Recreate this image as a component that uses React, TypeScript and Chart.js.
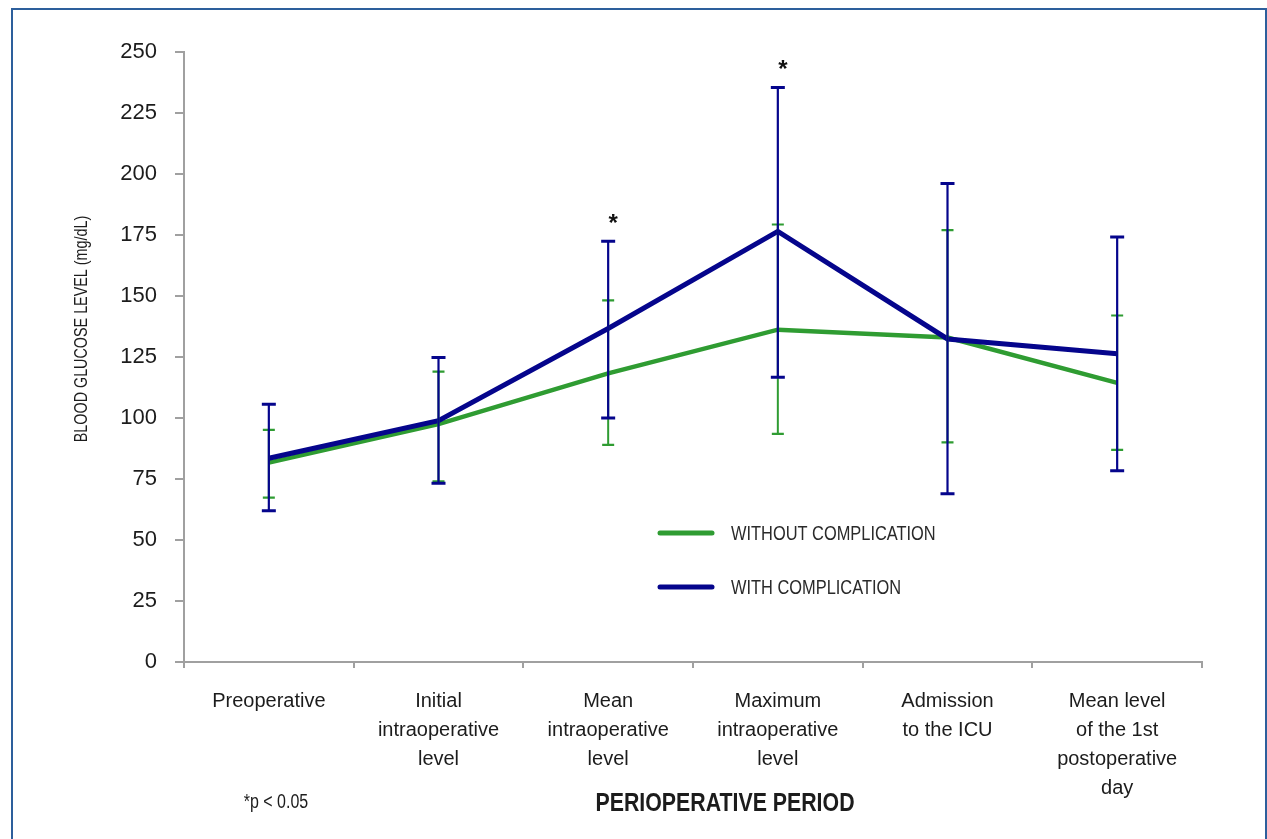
import React, { useEffect, useRef } from "react";
import { Chart, registerables } from "chart.js";

Chart.register(...registerables);

// ---- data ----
const categories: string[][] = [
  ["Preoperative"],
  ["Initial", "intraoperative", "level"],
  ["Mean", "intraoperative", "level"],
  ["Maximum", "intraoperative", "level"],
  ["Admission", "to the ICU"],
  ["Mean level", "of the 1st", "postoperative", "day"],
];
const withoutMean = [81.7, 97.5, 118.3, 136.2, 133, 114.4];
const withoutLow = [67.4, 74, 89, 93.5, 90, 86.9];
const withoutHigh = [95.1, 119, 148.2, 179.3, 177, 142];
const withMean = [83.5, 98.9, 136.7, 176.5, 132.4, 126.3];
const withLow = [62, 73.3, 100, 116.7, 69, 78.4];
const withHigh = [105.6, 124.8, 172.4, 235.4, 196.1, 174.2];
const significant = [false, false, true, true, false, false];
const yMin = 0;
const yMax = 250;
const yStep = 25;

const seriesLabels = ["WITHOUT COMPLICATION", "WITH COMPLICATION"];
const xTitle = "PERIOPERATIVE PERIOD";
const yTitle = "BLOOD GLUCOSE LEVEL (mg/dL)";
const footnote = "*p < 0.05";

const GREEN = "#2f9c32";
const BLUE = "#05058c";
const AXIS = "#a0a0a0";
const TEXT = "#1c1c1c";
const FONT = "'Liberation Sans', Arial, sans-serif";
const NARROW = 0.82;

function narrowText(ctx: any, text: string, x: number, y: number, font: string, align: string, color: string) {
  ctx.save();
  ctx.font = font;
  ctx.fillStyle = color;
  ctx.textAlign = align;
  ctx.textBaseline = "middle";
  ctx.translate(x, y);
  ctx.scale(NARROW, 1);
  ctx.fillText(text, 0, 0);
  ctx.restore();
}

const decor = {
  id: "decor",
  afterDatasetsDraw(chart: any) {
    const ctx = chart.ctx;
    const xs = chart.scales.x;
    const ys = chart.scales.y;
    const sets = [
      { low: withoutLow, high: withoutHigh, color: GREEN, cap: 6, capW: 2.2, w: 2 },
      { low: withLow, high: withHigh, color: BLUE, cap: 7, capW: 3, w: 2.2 },
    ];
    ctx.save();
    for (const s of sets) {
      ctx.strokeStyle = s.color;
      for (let i = 0; i < categories.length; i++) {
        const x = xs.getPixelForValue(i);
        const yl = ys.getPixelForValue(s.low[i]);
        const yh = ys.getPixelForValue(s.high[i]);
        ctx.lineWidth = s.w;
        ctx.beginPath();
        ctx.moveTo(x, yl);
        ctx.lineTo(x, yh);
        ctx.stroke();
        ctx.lineWidth = s.capW;
        ctx.beginPath();
        ctx.moveTo(x - s.cap, yl);
        ctx.lineTo(x + s.cap, yl);
        ctx.moveTo(x - s.cap, yh);
        ctx.lineTo(x + s.cap, yh);
        ctx.stroke();
      }
    }
    ctx.restore();
  },
  afterDraw(chart: any) {
    const ctx = chart.ctx;
    const xs = chart.scales.x;
    const ys = chart.scales.y;
    ctx.save();
    // frame
    ctx.strokeStyle = "#2d5f9c";
    ctx.lineWidth = 2;
    ctx.beginPath();
    ctx.moveTo(12, 845);
    ctx.lineTo(12, 9);
    ctx.lineTo(1266, 9);
    ctx.lineTo(1266, 845);
    ctx.stroke();

    // asterisks
    ctx.fillStyle = "#111";
    ctx.font = `bold 24px ${FONT}`;
    ctx.textAlign = "center";
    ctx.textBaseline = "middle";
    for (let i = 0; i < categories.length; i++) {
      if (!significant[i]) continue;
      const x = xs.getPixelForValue(i) + 5;
      const y = ys.getPixelForValue(withHigh[i]) - 17;
      ctx.fillText("*", x, y);
    }

    // y title (rotated)
    ctx.save();
    ctx.translate(82, 329);
    ctx.rotate(-Math.PI / 2);
    narrowText(ctx, yTitle, 0, 0, `17.5px ${FONT}`, "center", TEXT);
    ctx.restore();

    // x title
    narrowText(ctx, xTitle, 725, 804, `bold 26px ${FONT}`, "center", TEXT);

    // footnote
    narrowText(ctx, footnote, 276, 803, `19.5px ${FONT}`, "center", TEXT);

    // legend
    const colors = [GREEN, BLUE];
    const ly = [533, 587];
    ctx.lineCap = "round";
    ctx.lineWidth = 5;
    for (let i = 0; i < 2; i++) {
      ctx.strokeStyle = colors[i];
      ctx.beginPath();
      ctx.moveTo(660, ly[i]);
      ctx.lineTo(712, ly[i]);
      ctx.stroke();
      narrowText(ctx, seriesLabels[i], 731, ly[i] + 1, `20px ${FONT}`, "left", "#2a2a2a");
    }
    ctx.restore();
  },
};

export default function App() {
  const ref = useRef<HTMLCanvasElement>(null);
  useEffect(() => {
    if (!ref.current) return;
    const chart = new Chart(ref.current, {
      type: "line",
      data: {
        labels: categories,
        datasets: [
          {
            label: seriesLabels[0],
            data: withoutMean,
            borderColor: GREEN,
            backgroundColor: GREEN,
            borderWidth: 4.5,
            pointRadius: 0,
            tension: 0,
            order: 1,
          },
          {
            label: seriesLabels[1],
            data: withMean,
            borderColor: BLUE,
            backgroundColor: BLUE,
            borderWidth: 5,
            pointRadius: 0,
            tension: 0,
            order: 0,
          },
        ],
      },
      options: {
        responsive: false,
        animation: false,
        devicePixelRatio: 1,
        layout: { padding: { top: 52, right: 65, bottom: 0, left: 0 } },
        plugins: {
          legend: { display: false },
          tooltip: { enabled: false },
          title: { display: false },
        },
        scales: {
          x: {
            type: "category",
            offset: true,
            afterFit: (s: any) => {
              s.height = 177;
            },
            grid: {
              display: true,
              offset: true,
              drawOnChartArea: false,
              drawTicks: true,
              tickLength: 6,
              color: AXIS,
              lineWidth: 2,
            },
            border: { display: true, color: AXIS, width: 2 },
            ticks: {
              color: TEXT,
              font: { family: FONT, size: 20, lineHeight: 1.45 },
              padding: 19,
              maxRotation: 0,
              autoSkip: false,
            },
          },
          y: {
            min: yMin,
            max: yMax,
            afterFit: (s: any) => {
              s.width = 184;
            },
            grid: {
              display: true,
              drawOnChartArea: false,
              drawTicks: true,
              tickLength: 9,
              color: AXIS,
              lineWidth: 2,
            },
            border: { display: true, color: AXIS, width: 2 },
            ticks: {
              stepSize: yStep,
              color: TEXT,
              font: { family: FONT, size: 22 },
              padding: 18,
            },
          },
        },
      },
      plugins: [decor],
    } as any);
    return () => chart.destroy();
  }, []);
  return (
    <div style={{ position: "absolute", left: 0, top: 0, width: 1267, height: 839, background: "#fff" }}>
      <canvas ref={ref} width={1267} height={839} style={{ display: "block" }} />
    </div>
  );
}
